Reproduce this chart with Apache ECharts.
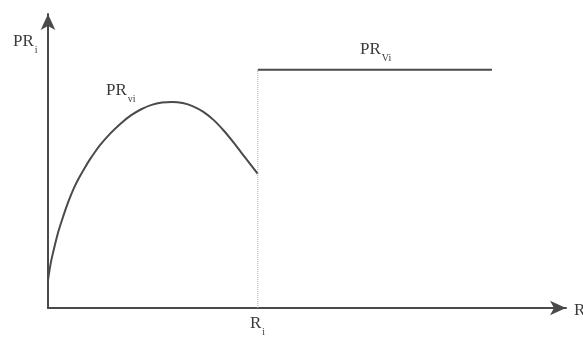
<!DOCTYPE html>
<html><head><meta charset="utf-8">
<script src="https://cdn.jsdelivr.net/npm/echarts@6/dist/echarts.min.js"></script>
<style>html,body{margin:0;padding:0;background:#fff}#c{width:583px;height:339px}</style>
</head><body><div id="c"></div>
<script>
// PR_vi curve (x = R, y = PR)
var curveX = [0, 0.5, 1, 2, 3, 4, 5, 6, 7, 8, 9, 10, 12, 14, 16, 18, 20, 22, 24, 26, 28, 30, 32, 34, 36, 38, 40.5];
var curveY = [9.5, 15, 19, 26, 31.5, 36.5, 40.8, 44.3, 47.4, 50.3, 52.9, 55.3, 59.3, 62.7, 65.5, 67.6, 69.1, 69.9, 70.1, 69.7, 68.6, 66.7, 63.9, 60.2, 55.9, 51.3, 45.6];
// PR_Vi plateau
var plateauX = [40.5, 85.7];
var plateauY = [81, 81];
// threshold R_i
var thresholdX = 40.5;

var curveData = curveX.map(function(x, i){ return [x, curveY[i]]; });
var plateauData = plateauX.map(function(x, i){ return [x, plateauY[i]]; });
var dotData = [[thresholdX, 0], [thresholdX, plateauY[0]]];

var chart = echarts.init(document.getElementById('c'));
var serif = '"Liberation Serif", "DejaVu Serif", serif';
function lbl(main, sub, x, y){
  return {type:'text', left:x, top:y, style:{
    text:'{m|' + main + '}{s|' + sub + '}',
    rich:{ m:{fontFamily:serif, fontSize:17, fill:'#3a3a3a', verticalAlign:'bottom'},
           s:{fontFamily:serif, fontSize:10, fill:'#3a3a3a', verticalAlign:'bottom', padding:[0,0,-5,1]} }
  }};
}
chart.setOption({
  animation:false,
  grid:{left:48, right:17, top:14, bottom:31},
  xAxis:{type:'value', min:0, max:100, axisLine:{show:true, onZero:false, symbol:['none','arrow'], symbolSize:[11,16], lineStyle:{color:'#4a4a4a', width:2}}, axisTick:{show:false}, axisLabel:{show:false}, splitLine:{show:false}},
  yAxis:{type:'value', min:0, max:100, axisLine:{show:true, onZero:false, symbol:['none','arrow'], symbolSize:[11,16], lineStyle:{color:'#4a4a4a', width:2}}, axisTick:{show:false}, axisLabel:{show:false}, splitLine:{show:false}},
  series:[
    {type:'line', data:curveData, smooth:0.3, showSymbol:false, lineStyle:{color:'#4a4a4a', width:2}},
    {type:'line', data:plateauData, showSymbol:false, lineStyle:{color:'#4a4a4a', width:2}},
    {type:'line', data:dotData, showSymbol:false, lineStyle:{color:'#aaa', width:1, type:'dotted'}}
  ],
  graphic:[
    lbl('PR', 'i', 13, 33),
    lbl('PR', 'vi', 106, 82),
    lbl('PR', 'Vi', 360, 41),
    lbl('R', 'i', 250, 315),
    {type:'text', left:574, top:302, style:{text:'R', fontFamily:serif, fontSize:17, fill:'#3a3a3a'}}
  ]
});
</script></body></html>
